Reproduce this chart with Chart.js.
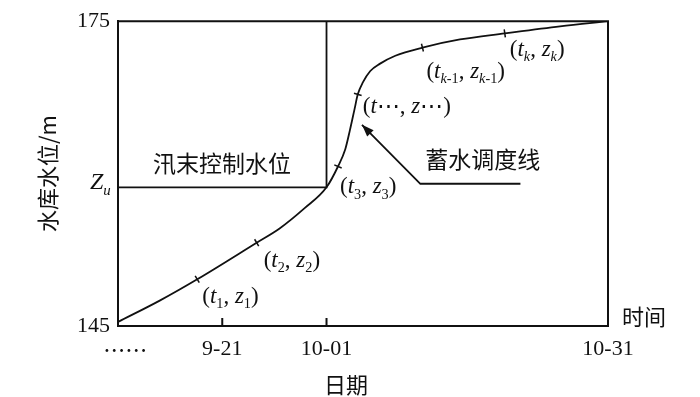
<!DOCTYPE html>
<html>
<head>
<meta charset="utf-8">
<script src="https://cdn.jsdelivr.net/npm/chart.js@4.4.1/dist/chart.umd.min.js"></script>
<style>
  html, body { margin: 0; padding: 0; background: #fff; }
  #wrap { width: 700px; height: 397px; position: relative; }
</style>
</head>
<body>
<div id="wrap"><canvas id="chart"></canvas></div>
<script>
// axis ticks
var xTickValues = [0.7, 10, 20, 47];
var xTickLabels = ['……', '9-21', '10-01', '10-31'];
var yTickValues = [145, 158.65, 175];
var zuLevel = 158.65;
var floodEndDay = 20;

// 蓄水调度线 (schematic curve)
var curveX = [0, 4.0, 7.6, 13.3, 15.5, 17.9, 20.0, 21.1, 21.8, 22.25, 22.7, 23.0, 23.5, 24.2, 25.1, 26.6, 29.2, 32.8, 37.1, 42.4, 47];
var curveY = [145.4, 147.5, 149.6, 153.2, 154.6, 156.6, 158.65, 160.7, 162.4, 164.3, 166.4, 167.8, 169.0, 170.1, 170.8, 171.6, 172.4, 173.2, 173.8, 174.5, 175];

// marked points on the curve
var markX = [7.6, 13.3, 21.1, 23.0, 29.2, 37.1];
var markY = [149.6, 153.2, 160.7, 167.8, 172.4, 173.8];
var markSubs = [['1'], ['2'], ['3'], ['⋯'], ['k', '-1'], ['k']];

// pointer line to the curve
var arrowX = [38.6, 29.0, 23.4];
var arrowY = [159.0, 159.0, 164.8];

var serif = '"Liberation Serif", "DejaVu Serif", serif';
var cjk = '"Noto Sans CJK SC", sans-serif';
var ink = '#111';

var labelOffsets = [[5, 24], [7, 24], [2, 27], [5, 19], [4, 30], [5, 23]];

function toPts(xs, ys) {
  return xs.map(function (x, i) { return { x: x, y: ys[i] }; });
}

function drawRich(ctx, parts, x, y, size) {
  var cx = x;
  parts.forEach(function (p) {
    var s = p.sub ? size * 0.62 : size;
    ctx.font = (p.it ? 'italic ' : '') + s + 'px ' + serif;
    var dy = p.sub ? size * 0.22 : 0;
    ctx.fillText(p.t, cx, y + dy);
    cx += ctx.measureText(p.t).width;
  });
}

function subParts(sub) {
  if (sub[0] === '⋯') return [{ t: '⋯' }];
  return sub.map(function (s) { return { t: s, sub: true, it: s === 'k' }; });
}

var overlay = {
  id: 'overlay',
  afterDraw: function (chart) {
    var ctx = chart.ctx;
    var a = chart.chartArea;
    var xs = chart.scales.x, ys = chart.scales.y;
    ctx.save();
    ctx.strokeStyle = ink;
    ctx.fillStyle = ink;

    // top + right frame
    ctx.lineWidth = 2;
    ctx.beginPath();
    ctx.moveTo(a.left, a.top);
    ctx.lineTo(a.right, a.top);
    ctx.lineTo(a.right, a.bottom);
    ctx.stroke();

    // inner tick marks on the x axis
    [1, 2].forEach(function (i) {
      var px = xs.getPixelForValue(xTickValues[i]);
      ctx.beginPath();
      ctx.moveTo(px, a.bottom);
      ctx.lineTo(px, a.bottom - 8);
      ctx.stroke();
    });

    // arrow head
    var n = arrowX.length;
    var x1 = xs.getPixelForValue(arrowX[n - 2]), y1 = ys.getPixelForValue(arrowY[n - 2]);
    var x2 = xs.getPixelForValue(arrowX[n - 1]), y2 = ys.getPixelForValue(arrowY[n - 1]);
    var ang = Math.atan2(y2 - y1, x2 - x1);
    ctx.beginPath();
    ctx.moveTo(x2, y2);
    ctx.lineTo(x2 - 12 * Math.cos(ang) + 4.5 * Math.sin(ang), y2 - 12 * Math.sin(ang) - 4.5 * Math.cos(ang));
    ctx.lineTo(x2 - 12 * Math.cos(ang) - 4.5 * Math.sin(ang), y2 - 12 * Math.sin(ang) + 4.5 * Math.cos(ang));
    ctx.closePath();
    ctx.fill();

    // point labels (t_i, z_i)
    ctx.textAlign = 'left';
    ctx.textBaseline = 'alphabetic';
    markX.forEach(function (mx, i) {
      var px = xs.getPixelForValue(mx) + labelOffsets[i][0];
      var py = ys.getPixelForValue(markY[i]) + labelOffsets[i][1];
      var parts = [{ t: '(' }, { t: 't', it: true }]
        .concat(subParts(markSubs[i]))
        .concat([{ t: ', ' }, { t: 'z', it: true }])
        .concat(subParts(markSubs[i]))
        .concat([{ t: ')' }]);
      drawRich(ctx, parts, px, py, 23);
    });

    // Zu tick label
    var zy = ys.getPixelForValue(zuLevel);
    drawRich(ctx, [{ t: 'Z', it: true }, { t: 'u', it: true, sub: true }], a.left - 28, zy + 2, 24);

    // annotation texts
    ctx.font = '23px ' + cjk;
    ctx.textBaseline = 'middle';
    ctx.fillText('汛末控制水位', a.left + 35, zy - 24);
    ctx.fillText('蓄水调度线', xs.getPixelForValue(arrowX[1]) + 5, ys.getPixelForValue(arrowY[0]) - 24);

    // axis titles
    ctx.font = '22px ' + cjk;
    ctx.textAlign = 'left';
    ctx.fillText('时间', a.right + 14, a.bottom - 9);
    ctx.textAlign = 'center';
    ctx.fillText('日期', 346, a.bottom + 59);
    ctx.translate(48, (a.top + a.bottom) / 2);
    ctx.rotate(-Math.PI / 2);
    ctx.fillText('水库水位/m', 0, 0);
    ctx.restore();
  }
};

new Chart(document.getElementById('chart').getContext('2d'), {
  type: 'scatter',
  data: {
    datasets: [
      {
        label: '蓄水调度线',
        data: toPts(curveX, curveY),
        showLine: true,
        borderColor: ink,
        borderWidth: 1.8,
        pointRadius: 0,
        cubicInterpolationMode: 'monotone'
      },
      {
        label: '汛末控制水位',
        data: [{ x: 0, y: zuLevel }, { x: floodEndDay, y: zuLevel }, { x: floodEndDay, y: 175 }],
        showLine: true,
        borderColor: ink,
        borderWidth: 1.8,
        pointRadius: 0,
        tension: 0
      },
      {
        label: 'marks',
        data: toPts(markX, markY),
        showLine: false,
        pointStyle: 'line',
        pointRadius: 4,
        borderColor: ink,
        borderWidth: 1.5,
        rotation: [59, 59, 23, 17, 76, 82]
      },
      {
        label: 'arrow',
        data: toPts(arrowX, arrowY),
        showLine: true,
        borderColor: ink,
        borderWidth: 1.8,
        pointRadius: 0,
        tension: 0
      }
    ]
  },
  options: {
    responsive: true,
    maintainAspectRatio: false,
    animation: false,
    layout: { padding: { top: 16, right: 92, left: 0, bottom: 0 } },
    plugins: { legend: { display: false }, tooltip: { enabled: false } },
    scales: {
      x: {
        type: 'linear',
        min: 0,
        max: 47,
        afterBuildTicks: function (scale) {
          scale.ticks = xTickValues.map(function (v) { return { value: v }; });
        },
        afterFit: function (scale) { scale.height = 71; },
        grid: { display: false, drawTicks: false },
        border: { display: true, color: ink, width: 2 },
        ticks: {
          autoSkip: false,
          maxRotation: 0,
          padding: 10,
          color: ink,
          font: function (c) {
            return c.index === 0 ? { family: cjk, size: 22 } : { family: serif, size: 22 };
          },
          callback: function (v, i) { return xTickLabels[i]; }
        }
      },
      y: {
        type: 'linear',
        min: 145,
        max: 175,
        afterBuildTicks: function (scale) {
          scale.ticks = yTickValues.map(function (v) { return { value: v }; });
        },
        afterFit: function (scale) { scale.width = 118; },
        grid: { display: false, drawTicks: false },
        border: { display: true, color: ink, width: 2 },
        ticks: {
          padding: 8,
          color: ink,
          font: { family: serif, size: 22 },
          callback: function (v) { return v === zuLevel ? '' : v; }
        }
      }
    }
  },
  plugins: [overlay]
});
</script>
</body>
</html>
